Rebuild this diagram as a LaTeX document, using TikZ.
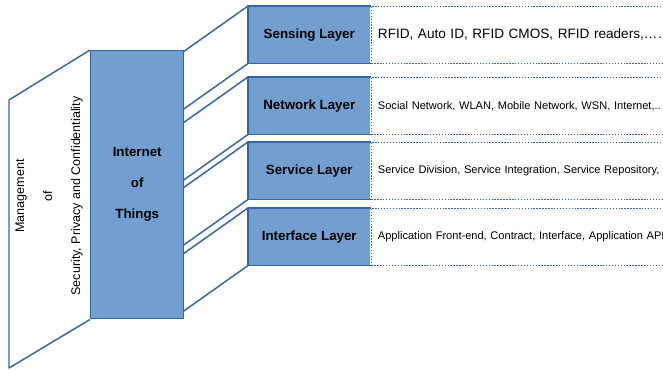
\documentclass[tikz,border=0pt]{standalone}
\usepackage{fontspec}
\setmainfont{Liberation Sans}
\usetikzlibrary{positioning}
\definecolor{frameblue}{HTML}{3465A4}
\definecolor{boxblue}{HTML}{729FCF}

\tikzset{
  frame/.style={draw=frameblue, line width=1.1pt, line join=round},
  layerbox/.style={fill=boxblue, anchor=north west, minimum width=91.5pt, minimum height=42.75pt, inner sep=0pt, font=\bfseries\fontsize{10}{12}\selectfont},
  itembox/.style={draw=frameblue, line width=1.1pt, dash pattern=on 1.1pt off 1.1pt, fill=white, anchor=west, minimum height=42.75pt, text width=250pt, inner xsep=5pt, align=left, font=\fontsize{8.3}{10}\selectfont}
}

\begin{document}
\begin{tikzpicture}[x=0.75pt, y=-0.75pt]
		\useasboundingbox (0,0) rectangle (663,370);
		\clip (0,0) rectangle (663,370);
		%\draw [thin, help lines] (0,0) grid (663,370);
		% Internet of Things block and the management panel
		\node[fill=boxblue, draw=frameblue, line width=1.1pt, anchor=north west, minimum width=69.75pt, minimum height=201pt, align=center, font=\bfseries\fontsize{10}{23.25}\selectfont] (iot) at (90,50) {Internet\\of\\Things};
		\draw[frame] (iot.north west) -- ++(-81,50) -- ++(0,268) -- (iot.south west);
		\node[rotate=90, align=center, font=\fontsize{9.4}{21}\selectfont] (mgmt) at (49,196) {Management\\of\\Security, Privacy and Confidentiality};
		% layers
		\node[layerbox] (sense) at (248,6) {Sensing Layer};
		\node[layerbox] (net) at (248,77) {Network Layer};
		\node[layerbox] (serv) at (248,142) {Service Layer};
		\node[layerbox] (inter) at (248,208) {Interface Layer};
		\foreach \l in {sense, net, serv, inter} {
			\draw[frame] (\l.north east) -- (\l.north west) -- (\l.south west) -- (\l.south east);
			\draw[frame] (\l.north west) -- ++(-65,46);
			\draw[frame] (\l.south west) -- ++(-65,46);
		}
		% what each layer holds
		\node[itembox, font=\fontsize{10.2}{12}\selectfont] (senseitems) at (sense.east) {RFID, Auto ID, RFID CMOS, RFID readers,……};
		\node[itembox] (netitems) at (net.east) {Social Network, WLAN, Mobile Network, WSN, Internet,..};
		\node[itembox] (servitems) at (serv.east) {Service Division, Service Integration, Service Repository,};
		\node[itembox] (interitems) at (inter.east) {Application Front-end, Contract, Interface, Application API};
	\end{tikzpicture}
\end{document}
